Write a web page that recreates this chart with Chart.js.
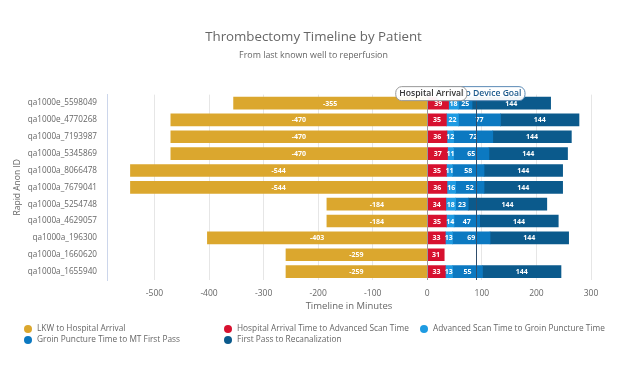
<!DOCTYPE html>
<html lang="en">
<head>
  <meta charset="UTF-8">
  <title>Thrombectomy Timeline by Patient</title>
  <script src="https://cdn.jsdelivr.net/npm/chart.js@4.4.1/dist/chart.umd.min.js"></script>
  <style>
    html, body { margin: 0; padding: 0; background: #fff; }
  </style>
</head>
<body>
  <canvas id="timeline" width="627" height="376"></canvas>
  <script>
    // patients, top to bottom
    const patients = [
      "qa1000e_5598049", "qa1000e_4770268", "qa1000a_7193987", "qa1000a_5345869",
      "qa1000a_8066478", "qa1000a_7679041", "qa1000a_5254748", "qa1000a_4629057",
      "qa1000a_196300", "qa1000a_1660620", "qa1000a_1655940"
    ];
    // minutes per phase
    const lkwToArrival = [-355, -470, -470, -470, -544, -544, -184, -184, -403, -259, -259];
    const arrivalToScan = [39, 35, 36, 37, 35, 36, 34, 35, 33, 31, 33];
    const scanToPuncture = [18, 22, 12, 11, 11, 16, 18, 14, 13, null, 13];
    const punctureToFirstPass = [25, 77, 72, 65, 58, 52, 23, 47, 69, null, 55];
    const firstPassToRecan = [144, 144, 144, 144, 144, 144, 144, 144, 144, null, 144];
    const xTicks = [-500, -400, -300, -200, -100, 0, 100, 200, 300];
    const hospitalArrival = 0;
    const doorToDeviceGoal = 90;

    const seriesNames = [
      "LKW to Hospital Arrival",
      "Hospital Arrival Time to Advanced Scan Time",
      "Advanced Scan Time to Groin Puncture Time",
      "Groin Puncture Time to MT First Pass",
      "First Pass to Recanalization"
    ];
    const seriesColors = ["#dba72e", "#d7112f", "#1e9be2", "#0c79c1", "#0b5a8c"];
    const seriesData = [lkwToArrival, arrivalToScan, scanToPuncture, punctureToFirstPass, firstPassToRecan];

    Chart.defaults.font.family = "'Open Sans', sans-serif";
    Chart.defaults.color = "#666";

    function roundRect(ctx, x, y, w, h, r) {
      ctx.beginPath();
      ctx.moveTo(x + r, y);
      ctx.arcTo(x + w, y, x + w, y + h, r);
      ctx.arcTo(x + w, y + h, x, y + h, r);
      ctx.arcTo(x, y + h, x, y, r);
      ctx.arcTo(x, y, x + w, y, r);
      ctx.closePath();
    }

    // plot lines + their labels, then the numbers in the bars
    const overlays = {
      id: "overlays",
      afterDatasetsDraw(chart) {
        const ctx = chart.ctx;
        const area = chart.chartArea;
        const xs = chart.scales.x;

        // numbers inside segments
        ctx.save();
        ctx.font = "bold 7px 'Open Sans', sans-serif";
        ctx.fillStyle = "#fff";
        ctx.textAlign = "center";
        ctx.textBaseline = "middle";
        chart.data.datasets.forEach((ds, i) => {
          chart.getDatasetMeta(i).data.forEach((bar, j) => {
            const v = ds.data[j];
            if (v === null || v === undefined) return;
            const p = bar.getCenterPoint();
            ctx.fillText(String(v), p.x, p.y + 0.5);
          });
        });
        ctx.restore();

        const lines = [
          { value: hospitalArrival, color: "#999", text: "Hospital Arrival", textColor: "#333", border: "#999" },
          { value: doorToDeviceGoal, color: "#2f4d6b", text: "Door to Device Goal", textColor: "#1c5a8c", border: "#5b8ab5" }
        ];
        ctx.save();
        lines.forEach(l => {
          const x = Math.round(xs.getPixelForValue(l.value)) + 0.5;
          ctx.strokeStyle = l.color;
          ctx.lineWidth = 1;
          ctx.beginPath();
          ctx.moveTo(x, area.top);
          ctx.lineTo(x, area.bottom);
          ctx.stroke();
        });
        ctx.font = "600 8.6px 'Open Sans', sans-serif";
        ctx.textAlign = "center";
        ctx.textBaseline = "middle";
        [lines[1], lines[0]].forEach(l => {
          const x = xs.getPixelForValue(l.value) + 4;
          const w = ctx.measureText(l.text).width + 7;
          const y = area.top - 8;
          roundRect(ctx, x - w / 2, y, w, 14, 6);
          ctx.fillStyle = "rgba(255,255,255,0.95)";
          ctx.fill();
          ctx.strokeStyle = l.border;
          ctx.stroke();
          ctx.fillStyle = l.textColor;
          ctx.fillText(l.text, x, y + 7);
        });
        ctx.restore();
      },
      // legend laid out in three columns
      afterDraw(chart) {
        const ctx = chart.ctx;
        const cols = [28, 228, 424];
        const rows = [329, 340];
        ctx.save();
        ctx.font = "8.3px 'Open Sans', sans-serif";
        ctx.textBaseline = "middle";
        ctx.textAlign = "left";
        chart.data.datasets.forEach((ds, i) => {
          const cx = cols[i % 3];
          const cy = rows[Math.floor(i / 3)];
          ctx.fillStyle = ds.backgroundColor;
          ctx.beginPath();
          ctx.arc(cx, cy, 4, 0, Math.PI * 2);
          ctx.fill();
          ctx.fillStyle = "#666";
          ctx.fillText(ds.label, cx + 9, cy);
        });
        ctx.restore();
      }
    };

    new Chart(document.getElementById("timeline"), {
      type: "bar",
      data: {
        labels: patients,
        datasets: seriesData.map((d, i) => ({
          label: seriesNames[i],
          data: d,
          backgroundColor: seriesColors[i],
          borderWidth: 0,
          barThickness: 12
        }))
      },
      options: {
        indexAxis: "y",
        responsive: false,
        animation: false,
        layout: { padding: { top: 0, right: 0, bottom: 62, left: 0 } },
        scales: {
          x: {
            stacked: true,
            min: -587,
            max: 300,
            afterBuildTicks: axis => { axis.ticks = xTicks.map(v => ({ value: v })); },
            afterFit: axis => { axis.height = 34; },
            grid: { color: "#e6e6e6", drawTicks: false },
            border: { display: false },
            ticks: { padding: 8, font: { size: 8.5 }, color: "#666" },
            title: { display: true, text: "Timeline in Minutes", font: { size: 9.5 }, color: "#666", padding: { top: 0, bottom: 2 } }
          },
          y: {
            stacked: true,
            afterFit: axis => { axis.width = 107; },
            grid: { display: false, drawTicks: false },
            border: { display: true, color: "#ccd6eb" },
            ticks: { padding: 10, font: { size: 8.2 }, color: "#666" },
            title: { display: true, text: "Rapid Anon ID", font: { size: 8.5 }, color: "#666", padding: { top: 12, bottom: 0 } }
          },
          // empty right gutter so the title stays centred on the page
          gutter: {
            type: "linear",
            position: "right",
            display: true,
            afterFit: axis => { axis.width = 36; },
            grid: { display: false, drawTicks: false },
            border: { display: false },
            ticks: { display: false }
          }
        },
        plugins: {
          legend: { display: false },
          tooltip: { enabled: false },
          title: {
            display: true,
            text: "Thrombectomy Timeline by Patient",
            font: { size: 13.3, weight: "normal" },
            color: "#666",
            padding: { top: 29, bottom: 4 }
          },
          subtitle: {
            display: true,
            text: "From last known well to reperfusion",
            font: { size: 8.9 },
            color: "#666",
            padding: { top: 1, bottom: 34 }
          }
        }
      },
      plugins: [overlays]
    });
  </script>
</body>
</html>
